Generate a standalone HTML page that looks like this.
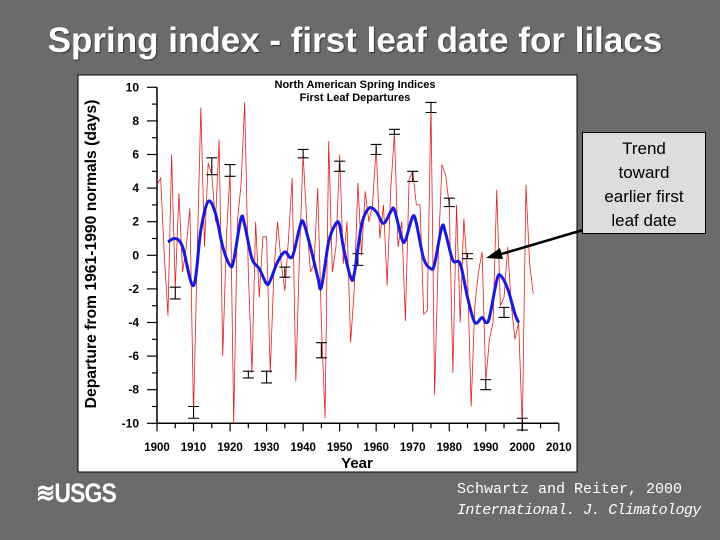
<!DOCTYPE html>
<html><head><meta charset="utf-8"><style>
body{margin:0;width:720px;height:540px;background:#6b6b6b;overflow:hidden;position:relative;font-family:"Liberation Sans",sans-serif}
#title{position:absolute;left:0;width:710px;top:21px;text-align:center;color:#fff;font-weight:bold;font-size:35px;white-space:nowrap;text-shadow:1px 1px 1px #333}
#box{position:absolute;left:582px;top:132px;width:124px;height:102px;background:#ddd;border:1px solid #000;text-align:center;font-size:17px;line-height:24px;padding-top:4px;box-sizing:border-box;color:#000}
.cite{position:absolute;left:457px;color:#fff;font-family:"Liberation Mono",monospace;font-size:15px;white-space:nowrap}
#usgs{position:absolute;left:36px;top:478px;color:#fff;font-weight:bold;font-size:27px;letter-spacing:-1px;transform:scaleX(0.85);transform-origin:left}
</style></head><body>
<div id="title">Spring index - first leaf date for lilacs</div>
<svg id="chart" width="720" height="540" style="position:absolute;left:0;top:0">
<rect x="78" y="75" width="499" height="397" fill="#fff" stroke="#000"/>
<g id="g"></g>
</svg>
<div id="box">Trend<br>toward<br>earlier first<br>leaf date</div>
<div id="usgs">≋USGS</div>
<div class="cite" style="top:481px">Schwartz and Reiter, 2000</div>
<div class="cite" style="top:502px;font-style:italic;letter-spacing:-0.6px">International. J. Climatology</div>
<script>
const years=[];for(let y=1900;y<=2003;y++)years.push(y);
const raw=[4.2,4.6,0,-3.6,6.0,-2,3.7,-1,0.5,2.8,-9.5,0,8.8,0.5,5.5,4.8,2,6.9,-6,1,5,-10,2,4.2,9.1,-1,-7,2,-2.5,1.1,1.1,-7,-1,2,-0.5,-2.1,1,4.6,-7.5,0,6,2,-1,-0.5,4,-4,-9.7,6.8,-1,0.5,6,-0.5,2,-5.2,-2,4.3,0,3.8,2,3,6.5,1,3,-1.8,4,7.3,0.5,2,-3.9,4.5,5,3,3,-3.5,-3.3,9,-8.3,0,5.4,4.8,3,-7,3,-4,2.2,-1,-9,-3,-1,0.2,-7.5,-5,-4,3.9,-3,-2.5,0.5,-3,-5,-4,-10.3,4.2,-0.5,-2.3];
const smYears=[1903,1905,1907,1910,1912,1914,1916,1918,1920,1921,1923,1924,1926,1928,1930,1931,1933,1935,1937,1939,1940,1942,1944,1945,1947,1949,1950,1951,1953,1954,1956,1958,1960,1962,1964,1965,1967,1968,1970,1971,1973,1975,1976,1978,1979,1981,1983,1985,1987,1989,1990,1991,1993,1994,1996,1998,1999];
const smooth=[0.8,1.0,0.5,-1.8,1.5,3.2,2.5,0.5,-0.6,-0.3,2.2,1.8,-0.2,-0.8,-1.7,-1.5,-0.4,0.2,-0.1,1.6,2,0.5,-1.3,-1.9,0.8,1.9,1.8,0.5,-1.3,-1.1,1.8,2.8,2.6,1.9,2.6,2.7,1.0,0.9,2.3,1.9,-0.2,-0.8,-0.5,1.7,1.3,-0.3,-0.5,-2.5,-4.0,-3.7,-4.0,-3.7,-1.5,-1.2,-2,-3.5,-4];
const errYears=[1905,1910,1915,1920,1925,1930,1935,1940,1945,1950,1955,1960,1965,1970,1975,1980,1985,1990,1995,2000];
const errLow=[-2.6,-9.7,4.8,4.7,-7.3,-7.6,-1.3,5.8,-6.1,5.0,-0.6,6.0,7.2,4.4,8.5,2.9,-0.2,-8,-3.7,-10.4];
const errHigh=[-1.9,-9.0,5.8,5.4,-6.9,-6.9,-0.7,6.3,-5.2,5.6,0.1,6.6,7.5,5.0,9.1,3.4,0.1,-7.4,-3.1,-9.7];
const xTicks=[1900,1910,1920,1930,1940,1950,1960,1970,1980,1990,2000,2010];
const yTicks=[10,8,6,4,2,0,-2,-4,-6,-8,-10];
const X=y=>157+(y-1900)*3.653, Y=v=>255.3-v*16.8;
const g=document.getElementById('g'),NS='http://www.w3.org/2000/svg';
function mk(t,a,p){const e=document.createElementNS(NS,t);for(const k in a)e.setAttribute(k,a[k]);(p||g).appendChild(e);return e;}
let e;
e=mk('line',{x1:157,y1:Y(10),x2:157,y2:Y(-10),stroke:'#000','stroke-width':1.5});

e=mk('line',{x1:157,y1:Y(-10),x2:X(2010),y2:Y(-10),stroke:'#000','stroke-width':1.5});

for(let v=-10;v<=10;v++){mk('line',{x1:v%2?152:147,y1:Y(v),x2:157,y2:Y(v),stroke:'#000','stroke-width':1.2});}
yTicks.forEach(v=>{e=mk('text',{x:139,y:Y(v)+4,'text-anchor':'end','font-size':12,'font-weight':'bold','font-family':'Liberation Sans'});e.textContent=v;
});
for(let y=1900;y<=2010;y+=5){mk('line',{x1:X(y),y1:Y(-10),x2:X(y),y2:Y(-10)+(y%10?5:8),stroke:'#000','stroke-width':1.2});}
xTicks.forEach(y=>{e=mk('text',{x:X(y),y:451,'text-anchor':'middle','font-size':11.5,'font-weight':'bold','font-family':'Liberation Sans'});e.textContent=y;
});
e=mk('text',{x:357,y:468,'text-anchor':'middle','font-size':15,'font-weight':'bold','font-family':'Liberation Sans'});e.textContent='Year';

e=mk('text',{x:0,y:0,'text-anchor':'middle','font-size':15.7,'font-weight':'bold','font-family':'Liberation Sans',transform:'translate(96,254) rotate(-90)'});e.textContent='Departure from 1961-1990 normals (days)';

e=mk('text',{x:355,y:88,'text-anchor':'middle','font-size':11,'font-weight':'bold','font-family':'Liberation Sans'});e.textContent='North American Spring Indices';

e=mk('text',{x:355,y:101,'text-anchor':'middle','font-size':11,'font-weight':'bold','font-family':'Liberation Sans'});e.textContent='First Leaf Departures';

e=mk('polyline',{points:years.map((y,i)=>X(y)+','+Y(raw[i])).join(' '),fill:'none',stroke:'#e02020','stroke-width':0.8});

errYears.forEach((y,i)=>{const x=X(y);
e=mk('path',{d:`M${x-5.5},${Y(errLow[i])}H${x+5.5}M${x-5.5},${Y(errHigh[i])}H${x+5.5}M${x},${Y(errLow[i])}V${Y(errHigh[i])}`,stroke:'#000','stroke-width':1.1,fill:'none'});
});
const P=smYears.map((y,i)=>[X(y),Y(smooth[i])]);
let d='M'+P[0][0]+','+P[0][1];
for(let i=0;i<P.length-1;i++){const p0=P[Math.max(i-1,0)],p1=P[i],p2=P[i+1],p3=P[Math.min(i+2,P.length-1)];
d+=`C${p1[0]+(p2[0]-p0[0])/6},${p1[1]+(p2[1]-p0[1])/6} ${p2[0]-(p3[0]-p1[0])/6},${p2[1]-(p3[1]-p1[1])/6} ${p2[0]},${p2[1]}`;}
e=mk('path',{d:d,fill:'none',stroke:'#1a1adc','stroke-width':3,'stroke-linejoin':'round'});

e=mk('line',{x1:583,y1:230,x2:498,y2:255,stroke:'#000','stroke-width':2.5});

e=mk('polygon',{points:'486,258 500,248 503,259',fill:'#000'});

</script>
</body></html>
